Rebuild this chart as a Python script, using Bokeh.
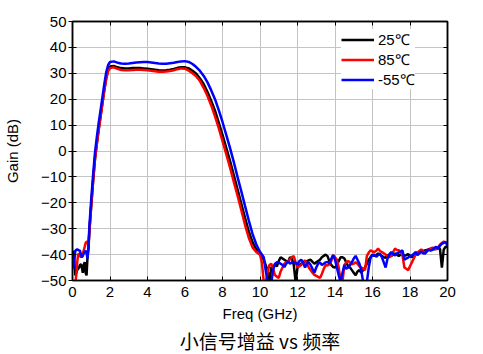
import numpy as np
from bokeh.plotting import figure
from bokeh.models import Range1d, FixedTicker, LinearAxis, Title
from bokeh.embed import file_html
from bokeh.resources import INLINE

# frequency sampling grid (GHz)
freq = np.round(np.concatenate([
    np.arange(1, 19) * 0.05,          # 0.05 .. 0.90
    np.arange(10, 21) * 0.1,          # 1.0 .. 2.0
    np.arange(11, 31) * 0.2,          # 2.2 .. 6.0
    np.arange(31, 50) * 0.2,          # 6.2 .. 9.8
    np.arange(100, 201) * 0.1,        # 10.0 .. 20.0
]), 3)

gain_25 = [
    -38.5, -43, -48, -47, -46, -45.4, -45, -44, -43.7, -45, -47, -44, -42.9, -47, -48, -41, -38, -31,
    -21, -11.5, -3, 3, 8.5, 13.5, 18.7, 23.8, 28.2, 31.4, 32.6,
    32.8, 32.3, 32.0, 31.9, 31.9, 32.0, 32.0, 32.0, 31.9, 31.8,
    31.6, 31.4, 31.2, 31.1, 31.2, 31.4, 31.7, 32.1, 32.3, 32.3,
    31.9, 31.0, 29.8, 28.0, 25.8, 22.8, 19.3, 15.6, 11.0, 6.2,
    1.2, -3.8, -9.3, -14.8, -20.3, -25.8, -31.0, -35.2, -38,
    -39, -40.5, -42, -44, -46, -50.5, -45, -44.5, -44, -44.5,
    -42.5, -41, -41.5, -42, -42.5, -43, -41, -41.5, -44, -50.5,
    -45, -44, -43.5, -43, -42.8, -42.5, -42.2, -42, -42.8, -43.5,
    -43, -42.5, -42, -41, -40.5, -40, -40.6, -42.5, -44, -44.8,
    -45, -44, -42.5, -41, -41, -41.5, -43, -44.5, -45, -46,
    -47, -48, -46.5, -46, -47, -46, -45, -43.5, -42, -41,
    -40, -40.5, -40.2, -39.6, -40, -40.6, -41, -41.2, -40.5, -40,
    -40.6, -40, -39.6, -40, -40.5, -40, -39.8, -40.5, -40.2, -39.8,
    -40.5, -41, -40, -39.2, -39.6, -39, -38.4, -38.6, -38.4, -38.2,
    -38, -38.2, -37.8, -38, -37.6, -37.4, -37.8, -45, -38, -37,
    -37,
]

gain_85 = [
    -55, -53, -51, -48, -43, -40, -39.6, -40.5, -41, -40.5, -39.5, -38.4, -37, -35.5, -35, -35, -36.5, -31,
    -21, -11.5, -3, 3, 8.5, 13.5, 18.5, 23.5, 27.8, 30.8, 32.0,
    32.3, 31.7, 31.3, 31.2, 31.2, 31.3, 31.4, 31.4, 31.3, 31.2,
    31.0, 30.8, 30.6, 30.6, 30.7, 30.9, 31.2, 31.6, 31.9, 31.8,
    31.0, 30.0, 28.8, 27.0, 24.3, 21.2, 17.6, 13.4, 8.8, 3.8,
    -1.2, -6.3, -11.8, -17.2, -22.8, -28.5, -33.5, -37.2, -39,
    -40, -43, -50.5, -51, -47, -44, -43.5, -45.5, -48, -48.5,
    -49, -46.5, -45, -43.5, -43, -42.6, -41.8, -41, -40.6, -43,
    -45, -44.5, -44, -43, -42.2, -43.5, -45, -46, -47, -47.8,
    -48.2, -48.6, -49, -47.5, -45.5, -44, -44.2, -43.8, -42.5, -40.2,
    -41, -42, -45, -50.5, -50.5, -44, -43, -42.5, -43, -43.8,
    -43.5, -43, -43.5, -44.5, -45, -45.5, -46, -40.5, -39.2, -38.4,
    -38.8, -39, -38.5, -37.7, -38.6, -39, -39.5, -40, -40.6, -41,
    -40.5, -39, -37.7, -38.2, -38.3, -39, -40.3, -45, -45.5, -46,
    -44.5, -43, -41.5, -40, -39.2, -38.6, -38, -38.8, -39.2, -38.6,
    -38, -37.6, -37.3, -37.5, -38, -37.2, -36.2, -35.5, -35, -35.2,
    -35.5,
]

gain_m55 = [
    -45.5, -42, -38.5, -38.2, -38, -38.2, -38.4, -38.5, -40, -41, -40.5, -39.6, -39, -38.5, -39.5, -41.5, -37, -29,
    -18.5, -9, -0.5, 5.5, 11, 16, 21, 26, 30.5, 33.2, 34.4,
    34.6, 34.1, 33.8, 33.7, 33.8, 34.0, 34.2, 34.3, 34.4, 34.4,
    34.2, 34.0, 33.8, 33.7, 33.7, 33.9, 34.1, 34.4, 34.6, 34.7,
    34.4, 33.6, 32.4, 30.9, 29.0, 26.5, 23.4, 20.0, 15.8, 11.2,
    6.2, 1.2, -4.2, -10, -15.5, -21.2, -26.8, -32, -36,
    -39, -40, -41, -46, -50, -51, -51, -46, -43.5, -43,
    -43, -43.5, -44, -44.8, -43.5, -42.6, -43.5, -43, -42.8, -43.2,
    -43.8, -42.5, -42, -43, -45, -43.5, -43, -44, -45.5, -47,
    -45, -43.5, -43, -44, -43.5, -43, -42.8, -43.5, -41.6, -40.2,
    -42, -45, -48, -50.5, -47, -44, -45.5, -45, -44, -43,
    -41.5, -40.5, -42, -43.5, -46, -50.5, -51, -50.5, -45, -41,
    -40.3, -40, -40.8, -40.2, -39.6, -41, -43, -45, -41.5, -40,
    -39, -39.8, -40.3, -39.5, -39.2, -38.8, -38.4, -42, -41.5, -41.2,
    -40.5, -40.3, -39.8, -39, -40.2, -39.5, -38.8, -39.5, -39.6, -38.8,
    -38, -38.5, -38.2, -37.4, -37, -37.8, -36.5, -35.8, -35.5, -35.2,
    -36.5,
]

series_labels = ["25\u2103", "85\u2103", "-55\u2103"]
series_colors = ["#000000", "#ff0000", "#0000ff"]
x_ticks = [0, 2, 4, 6, 8, 10, 12, 14, 16, 18, 20]
y_ticks = [-50, -40, -30, -20, -10, 0, 10, 20, 30, 40, 50]

for g in (gain_25, gain_85, gain_m55):
    assert len(g) == len(freq), (len(g), len(freq))

FONT = "Liberation Sans"

p = figure(width=483, height=354, output_backend="svg", toolbar_location=None,
           x_range=Range1d(0, 20), y_range=Range1d(-50, 50),
           min_border_left=72, min_border_right=36, min_border_top=21, min_border_bottom=72,
           background_fill_color="white", border_fill_color="white")
p.outline_line_color = "black"
p.outline_line_width = 1.5

for g, lab, col in zip([gain_25, gain_85, gain_m55], series_labels, series_colors):
    p.line(freq, g, line_color=col, line_width=2.5, legend_label=lab)

for ax in (p.xaxis[0], p.yaxis[0]):
    ax.major_label_text_font = FONT
    ax.major_label_text_font_size = "15px"
    ax.major_label_text_color = "black"
    ax.axis_label_text_font = FONT
    ax.axis_label_text_font_size = "15px"
    ax.axis_label_text_font_style = "normal"
    ax.axis_label_text_color = "black"
    ax.axis_line_color = "black"
    ax.axis_line_width = 1.5
    ax.major_tick_line_color = "black"
    ax.minor_tick_line_color = None

p.xaxis[0].ticker = FixedTicker(ticks=x_ticks)
p.yaxis[0].ticker = FixedTicker(ticks=y_ticks)
p.xaxis[0].axis_label = "Freq (GHz)"
p.yaxis[0].axis_label = "Gain (dB)"
p.xaxis[0].major_tick_in = 4
p.xaxis[0].major_tick_out = 0
p.xaxis[0].major_label_standoff = 6
p.xaxis[0].axis_label_standoff = 5
p.yaxis[0].major_tick_in = 4
p.yaxis[0].major_tick_out = 4
p.yaxis[0].major_label_standoff = 2
p.yaxis[0].axis_label_standoff = 17

top = LinearAxis(ticker=FixedTicker(ticks=x_ticks), major_label_text_font_size="0px",
                 major_label_text_color=None,
                 major_label_standoff=0, major_tick_in=4, major_tick_out=0,
                 minor_tick_line_color=None, axis_line_color="black", axis_line_width=1.5)
right = LinearAxis(ticker=FixedTicker(ticks=y_ticks), major_label_text_font_size="0px",
                   major_label_text_color=None,
                   major_label_standoff=0, major_tick_in=4, major_tick_out=0,
                   minor_tick_line_color=None, axis_line_color="black", axis_line_width=1.5)
p.add_layout(top, "above")
p.add_layout(right, "right")

p.xgrid.grid_line_color = "#c4c4c4"
p.ygrid.grid_line_color = "#c4c4c4"
p.xgrid.grid_line_width = 1
p.ygrid.grid_line_width = 1

lg = p.legend[0]
lg.location = (269, 191)
lg.border_line_color = None
lg.background_fill_color = "white"
lg.background_fill_alpha = 1.0
lg.label_text_font = FONT
lg.label_text_font_size = "15px"
lg.label_text_color = "black"
lg.glyph_width = 33
lg.glyph_height = 17
lg.label_height = 17
lg.label_standoff = 4
lg.spacing = 0
lg.padding = 6
lg.margin = 0

title = Title(text="小信号增益 vs 频率", align="center",
              text_font="Noto Sans CJK SC", text_font_size="19px",
              text_font_style="normal", text_color="black", standoff=1)
p.add_layout(title, "below")

open("out.html", "w").write(file_html(p, INLINE))
